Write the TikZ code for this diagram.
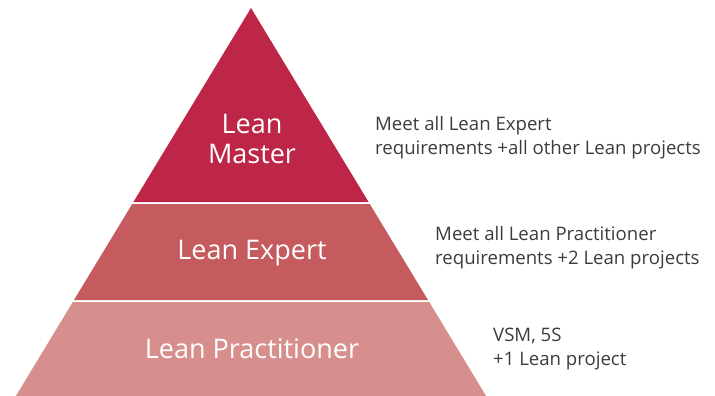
\documentclass[tikz,border=0pt]{standalone}
\usepackage{fontspec}
\setmainfont{Open Sans}
\usetikzlibrary{positioning}
\definecolor{master}{RGB}{190,38,72}
\definecolor{expert}{RGB}{197,91,94}
\definecolor{practitioner}{RGB}{214,143,140}
\definecolor{notegray}{RGB}{60,60,60}

\begin{document}
\begin{tikzpicture}[x=1pt,y=-1pt]
    \tikzstyle{tier}=[text=white,inner sep=0,align=center,font=\fontsize{27}{30}\selectfont]
    \tikzstyle{note}=[text=notegray,inner sep=0,anchor=west,align=left,font=\fontsize{18.6}{24}\selectfont]

    \useasboundingbox (0,0) rectangle (715,396);

    % pyramid bands
    \fill[master] (251,8) -- (368.6,202) -- (133.4,202) -- cycle;
    \fill[expert] (132.2,204) -- (369.8,204) -- (428,300) -- (74,300) -- cycle;
    \fill[practitioner] (72.8,302) -- (429.2,302) -- (486.1,396) -- (15.9,396) -- cycle;

    \node[tier](master) at (252,139){Lean\\Master};
    \node[tier](expert) at (252,253){Lean Expert};
    \node[tier](practitioner) at (252,349){Lean Practitioner};

    \node[note](masternote) at (375,138){Meet all Lean Expert\\requirements +all other Lean projects};
    \node[note](expertnote) at (435,248){Meet all Lean Practitioner\\requirements +2 Lean projects};
    \node[note](practitionernote) at (493,349){VSM, 5S\\+1 Lean project};
\end{tikzpicture}
\end{document}
